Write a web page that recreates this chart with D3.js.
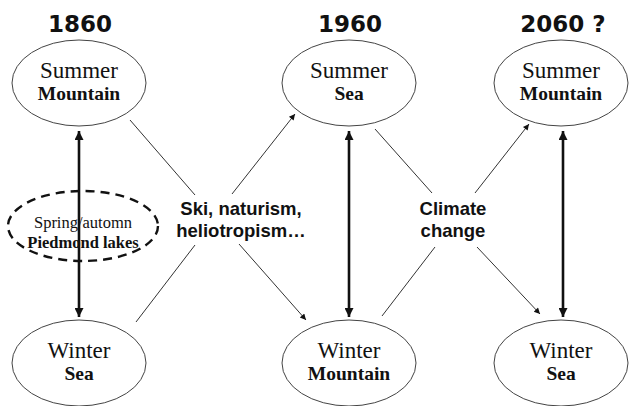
<!DOCTYPE html>
<html>
<head>
<meta charset="utf-8">
<script src="https://cdn.jsdelivr.net/npm/d3@7"></script>
<style>
  body { margin: 0; background: #fff; }
  svg { display: block; }
  .year { font-family: "DejaVu Sans", Verdana, sans-serif; font-weight: bold; font-size: 23px; fill: #111; }
  .season { font-family: "Liberation Serif", "Times New Roman", serif; font-size: 23px; fill: #111; }
  .place { font-family: "Liberation Serif", "Times New Roman", serif; font-weight: bold; font-size: 19.5px; fill: #111; }
  .driver { font-family: "Liberation Sans", Arial, sans-serif; font-weight: bold; font-size: 18.5px; fill: #111; }
  .node { fill: #fff; stroke: #444; stroke-width: 1; }
  .link { stroke: #333; stroke-width: 1; fill: none; }
  .swap { stroke: #111; stroke-width: 2.6; fill: none; }
</style>
</head>
<body>
<script>
// Data {{{1
const years = ["1860", "1960", "2060 ?"];
const summerPlaces = ["Mountain", "Sea", "Mountain"];
const winterPlaces = ["Sea", "Mountain", "Sea"];
const drivers = [["Ski, naturism,", "heliotropism\u2026"], ["Climate", "change"]];
const sideNode = ["Spring/automn", "Piedmond lakes"];

// Main {{{1
const width = 630, height = 406;
const svg = d3.select("body").append("svg")
    .attr("width", width)
    .attr("height", height);

const x = d3.scaleOrdinal().domain(years).range([79, 349, 561]);
const y = d3.scaleOrdinal().domain(["title", "summer", "driver", "winter"]).range([32, 83, 225, 363]);
const driverX = d3.scaleOrdinal().domain([0, 1]).range([241, 453]);
const rx = 67, ry = 43;

createMarkers(svg);

// year titles
svg.selectAll(".year")
    .data(years)
    .join("text")
    .classed("year", true)
    .attr("x", (d) => x(d) + (d.length > 4 ? 2 : 1))
    .attr("y", y("title"))
    .attr("text-anchor", "middle")
    .text((d) => d);

// side dashed node (drawn under the 1860 arrow)
const side = svg.append("g").attr("transform", `translate(${x(years[0]) + 4},${y("driver") + 1})`);
side.append("ellipse")
    .attr("rx", 75).attr("ry", 35)
    .attr("fill", "#fff")
    .attr("stroke", "#111")
    .attr("stroke-width", 2.4)
    .attr("stroke-dasharray", "9,6");
side.append("text").classed("season", true).style("font-size", "16.5px")
    .attr("text-anchor", "middle").attr("y", 2).text(sideNode[0]);
side.append("text").classed("place", true).style("font-size", "16.5px")
    .attr("text-anchor", "middle").attr("y", 22).text(sideNode[1]);

// thick double arrows between summer and winter
svg.selectAll(".swap")
    .data(years)
    .join("line")
    .classed("swap", true)
    .attr("x1", (d) => x(d) + (d.length > 4 ? 2 : 0))
    .attr("x2", (d) => x(d) + (d.length > 4 ? 2 : 0))
    .attr("y1", y("summer") + ry + 5)
    .attr("y2", y("winter") - ry - 3)
    .attr("marker-start", "url(#thickStart)")
    .attr("marker-end", "url(#thickEnd)");

// nodes
const nodes = [];
years.forEach((yr, i) => {
    nodes.push({ year: yr, row: "summer", season: "Summer", place: summerPlaces[i] });
    nodes.push({ year: yr, row: "winter", season: "Winter", place: winterPlaces[i] });
});
const nodeG = svg.selectAll(".nodeG")
    .data(nodes)
    .join("g")
    .attr("transform", (d) => `translate(${x(d.year)},${y(d.row)})`);
nodeG.append("ellipse").classed("node", true)
    .attr("rx", rx).attr("ry", ry);
nodeG.append("text").classed("season", true)
    .attr("text-anchor", "middle").attr("y", -5).text((d) => d.season);
nodeG.append("text").classed("place", true)
    .attr("text-anchor", "middle").attr("y", 17).text((d) => d.place);

// driver labels between columns
drivers.forEach((lines, i) => {
    const t = svg.append("text").classed("driver", true)
        .attr("text-anchor", "middle")
        .attr("x", driverX(i))
        .attr("y", y("driver") - 10);
    lines.forEach((l, j) => t.append("tspan").attr("x", driverX(i)).attr("dy", j ? 22 : 0).text(l));
});

// thin links: ellipse -> driver label (plain), driver label -> next column (arrow)
// [offset from ellipse centre, offset from label centre, row, column, driver, arrow]
const linkShapes = [
    [[ 51,  37], [-46, -30], "summer", 0, 0, false],
    [[-54,  31], [ -9, -31], "summer", 1, 0, true],
    [[ 57, -41], [-46,  20], "winter", 0, 0, false],
    [[-43, -43], [ -2,  19], "winter", 1, 0, true],
    [[ 26,  46], [-21, -32], "summer", 1, 1, false],
    [[-32,  41], [ 22, -32], "summer", 2, 1, true],
    [[ 33, -47], [-18,  22], "winter", 1, 1, false],
    [[-21, -49], [ 24,  22], "winter", 2, 1, true]
];
const links = linkShapes.map(([n, l, row, col, di, arrow]) => {
    const ex = x(years[col]) + n[0], ey = y(row) + n[1];
    const lx = driverX(di) + l[0], ly = y("driver") + l[1];
    return arrow ? { x1: lx, y1: ly, x2: ex, y2: ey, arrow } : { x1: ex, y1: ey, x2: lx, y2: ly, arrow };
});
svg.selectAll(".link")
    .data(links)
    .join("line")
    .classed("link", true)
    .attr("x1", (d) => d.x1).attr("y1", (d) => d.y1)
    .attr("x2", (d) => d.x2).attr("y2", (d) => d.y2)
    .attr("marker-end", (d) => d.arrow ? "url(#thinEnd)" : null);

// Markers {{{1
function createMarkers(svgElement) {
    const defs = svgElement.append("defs");
    const add = (id, w, h, orient) => defs.append("marker")
        .attr("id", id)
        .attr("viewBox", [0, 0, 10, 10])
        .attr("refX", 10).attr("refY", 5)
        .attr("markerUnits", "userSpaceOnUse")
        .attr("markerWidth", w).attr("markerHeight", h)
        .attr("orient", orient)
        .append("path")
        .attr("d", "M 0 0 L 10 5 L 0 10 z")
        .attr("fill", "#111");
    add("thickEnd", 10, 9, "auto");
    add("thickStart", 10, 9, "auto-start-reverse");
    add("thinEnd", 8, 6, "auto");
}
</script>
</body>
</html>
